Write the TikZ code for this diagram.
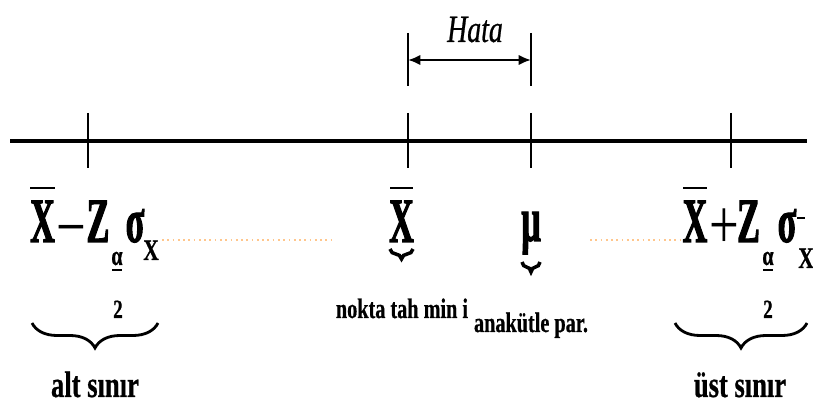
\documentclass[tikz,border=0pt]{standalone}
\usepackage{fontspec}
\setmainfont{Liberation Serif}
\newfontfamily\formfont[FakeStretch=0.54, FakeBold=1.6]{Liberation Serif}
\newfontfamily\opfont[FakeStretch=0.75]{Liberation Serif}
\newfontfamily\labfont[FakeStretch=0.72, FakeBold=0.6]{Liberation Serif}
\usetikzlibrary{arrows.meta,decorations.pathreplacing}

\begin{document}
\begin{tikzpicture}[x=0.02cm, y=-0.02cm,
	big/.style = {font=\formfont\bfseries\fontsize{36}{36}\selectfont, inner sep=0, anchor=base},
	op/.style = {font=\opfont\fontsize{40}{40}\selectfont, inner sep=0, anchor=base},
	sub/.style = {font=\labfont\bfseries\fontsize{#1}{#1}\selectfont, inner sep=0, anchor=base},
	sub/.default = 17,
	lab/.style = {font=\labfont\bfseries\fontsize{#1}{#1}\selectfont, inner sep=0, anchor=base},
	lab/.default = 16,
	brc/.style = {decorate, decoration={brace, mirror, amplitude=#1}, line width=1.6pt},
	brc/.default = 0.5cm]
\useasboundingbox (0,0) rectangle (813,404);

% axis and ticks
\draw[line width=1.8pt] (10,141) -- (807,141);
\foreach \t in {88,408,531,731}
	\draw[line width=1.1pt] (\t,113) -- (\t,168);

% error
\draw[line width=1.1pt] (408,33) -- (408,86);
\draw[line width=1.1pt] (531,33) -- (531,86);
\coordinate (xe) at (408,60);
\coordinate (me) at (531,60);
\draw[line width=1.3pt, {Latex[length=7pt,width=6pt]}-{Latex[length=7pt,width=6pt]}] (xe) -- (me);
\node[font=\labfont\itshape\fontsize{22}{22}\selectfont, inner sep=0, anchor=base] (hata) at (475,42) {Hata};

% lower limit
\node[big] (xl) at (42.5,242) {X};
\draw[line width=1.3pt] (30,188) -- (55,188);
\node[op] (ml) at (71,251) {−};
\node[big] (zl) at (98,242) {Z};
\node[sub=16] (al) at (117,265) {α};
\draw[line width=0.9pt] (112,270) -- (122,270);
\node[big] (sl) at (135,242) {σ};
\node[sub] (xsl) at (151,260) {X};
\node[lab=15] (tl) at (118,318) {2};
\draw[brc] (32,323) -- (158,323);
\node[lab=21] (alt) at (95,397) {alt sınır};

% point estimate and parameter
\node[big] (xm) at (401.5,242) {X};
\draw[line width=1.3pt] (390,188) -- (413,188);
\draw[brc=0.2cm, line width=2pt] (390,249) -- (413,249);
\node[lab] (nokta) at (402,318) {nokta tah min i};
\node[big] (mu) at (531,241) {μ};
\draw[brc=0.2cm, line width=2pt] (522,262) -- (540,262);
\node[lab] (par) at (531,332) {anakütle par.};

% upper limit
\node[big] (xu) at (695,242) {X};
\draw[line width=1.3pt] (683,188) -- (707,188);
\node[op] (pu) at (724.5,249) {+};
\node[big] (zu) at (748.5,242) {Z};
\node[sub=16] (au) at (768,265) {α};
\draw[line width=0.9pt] (763,270) -- (773,270);
\node[big] (su) at (787,242) {σ};
\draw[line width=1pt] (797,218) -- (805,218);
\node[sub] (xsu) at (806,268) {X};
\node[lab=15] (tu) at (768,318) {2};
\draw[brc] (675,323) -- (807,323);
\node[lab=21] (ust) at (740,397) {üst sınır};

% leaders
\draw[orange!45, dotted, line width=1pt] (162,240) -- (333,240);
\draw[orange!45, dotted, line width=1pt] (590,240) -- (680,240);
\end{tikzpicture}
\end{document}
